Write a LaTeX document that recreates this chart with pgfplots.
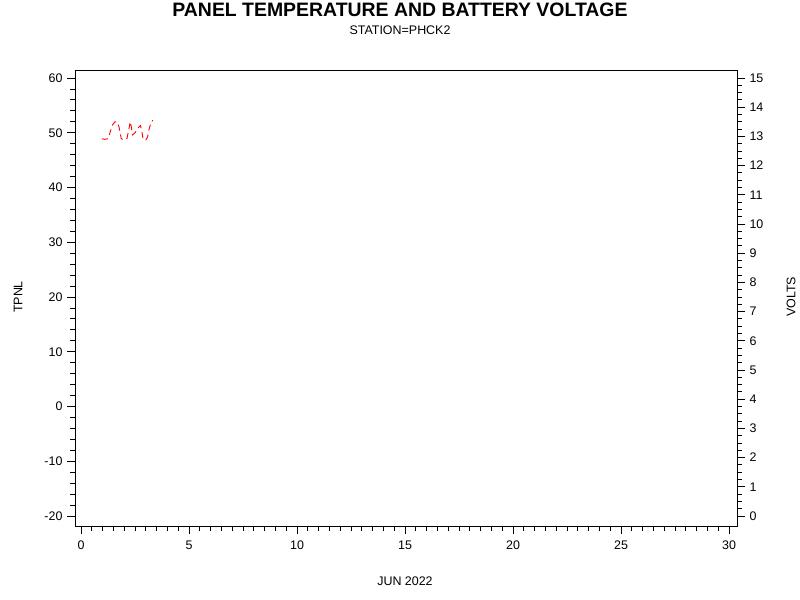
\documentclass[border=0pt]{standalone}
\usepackage{fontspec}
\setmainfont{Liberation Sans}
\usepackage{pgfplots}
\pgfplotsset{compat=1.18}
\begin{document}
\begin{tikzpicture}[x=1bp,y=1bp]
\pgfplotsset{
  common/.style={
    at={(0,0)}, anchor=south west,
    scale only axis, width=662bp, height=456bp,
    tick align=outside,
    major tick length=8bp, minor tick length=5bp,
    every tick/.style={black, line width=0.8bp},
    axis line style={line width=0.9bp},
    tick label style={font=\fontsize{12.5}{14}\selectfont},
    /pgf/number format/assume math mode=true,
    clip=false,
  }
}
\useasboundingbox (-75,-74) rectangle (725,526);
\begin{axis}[common,
  xmin=-0.28, xmax=30.37, xtick={0,5,...,30}, minor x tick num=9,
  ymin=-21.83, ymax=61.46, ytick={-20,-10,...,60}, minor y tick num=4,
  xtick pos=bottom, ytick pos=left,
  xticklabel style={yshift=-3bp},
  yticklabel style={xshift=-1bp},
]
\addplot[red, line width=0.9bp, dash pattern=on 6bp off 4bp] coordinates {
(0.97,48.9) (1.10,48.8) (1.25,48.9) (1.34,50.0) (1.45,51.4) (1.57,52.0)
(1.70,51.9) (1.76,51.0) (1.82,49.8) (1.86,48.9) (2.00,48.7) (2.13,49.0)
(2.22,50.8) (2.28,52.0) (2.33,51.0) (2.38,49.6) (2.50,50.0) (2.62,50.8)
(2.75,51.3) (2.82,50.2) (2.87,48.8) (3.00,48.7) (3.08,49.2) (3.14,50.5)
(3.22,51.6) (3.32,52.3)
};
\end{axis}
\begin{axis}[common,
  xmin=-0.28, xmax=30.37, hide x axis,
  axis y line*=right,
  ymin=-0.343, ymax=15.274, ytick={0,1,...,15}, minor y tick num=3,
  yticklabel style={xshift=1bp},
]
\end{axis}
\node[anchor=base, font=\bfseries\fontsize{19.5}{22}\selectfont] at (325,509) {PANEL TEMPERATURE AND BATTERY VOLTAGE};
\node[anchor=base, font=\fontsize{12.5}{14}\selectfont] at (325,491) {STATION=PHCK2};
\node[font=\fontsize{12.5}{14}\selectfont] at (330,-55) {JUN 2022};
\node[rotate=90, font=\fontsize{12.5}{14}\selectfont] at (-57,229) {TPNL};
\node[rotate=90, font=\fontsize{12.5}{14}\selectfont] at (716,229) {VOLTS};
\end{tikzpicture}
\end{document}
